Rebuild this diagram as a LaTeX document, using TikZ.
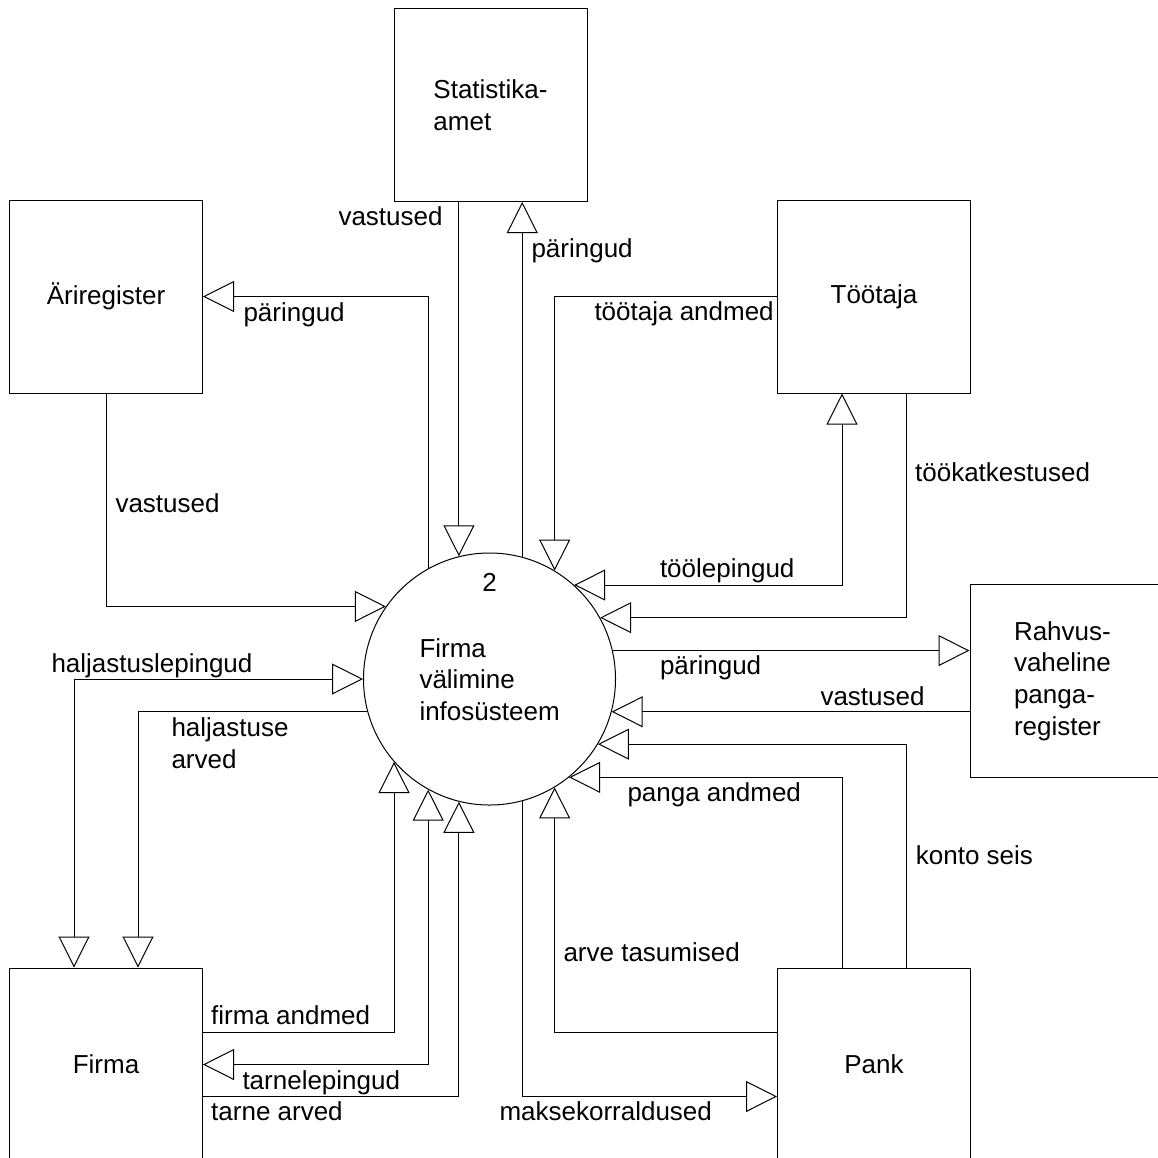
\documentclass[tikz,border=0pt]{standalone}
\usepackage{fontspec}
\setmainfont{Liberation Sans}
\usetikzlibrary{arrows.meta}

\begin{document}
\begin{tikzpicture}[x=1pt,y=-1pt,line width=1pt,
		>={Triangle[open,length=31pt,width=31pt]},
		every node/.style={font=\fontsize{26}{31.7}\selectfont},
		ent/.style={draw,rectangle,minimum width=193pt,minimum height=193pt,align=left,inner sep=0pt},
		proc/.style={draw,circle,minimum size=252pt,inner sep=0pt},
		lbl/.style={inner sep=0pt,anchor=base west}]
			%%%%% START %%%%%
			
			\path[use as bounding box] (0,0) rectangle (1158,1157);
			\clip (0,0) rectangle (1158,1157);
			
			\node[ent] (stat) at (490.5,105) {Statistika-\\amet};
			\node[ent] (ari) at (106,296.5) {Äriregister};
			\node[ent] (toot) at (874,296.5) {Töötaja};
			\node[ent,text width=105pt] (rahv) at (1066.5,681) {Rahvus-\\vaheline\\panga-\\register};
			\node[ent] (firma) at (106,1064.5) {Firma};
			\node[ent] (pank) at (874,1064.5) {Pank};
			
			\node[proc] (sys) at (489.5,679) {};
			\node[lbl,anchor=base] (sysnr) at (489.5,591.5) {2};
			\node[lbl,anchor=west,align=left] (sysname) at (419,679.5) {Firma\\välimine\\infosüsteem};
			
			\draw[->] (sys.104 |- stat.south) -- (sys.104);
			\draw[->] (sys.75) -- (sys.75 |- stat.south);
			\draw[->] (sys.119.7) |- (ari.east);
			\draw[->] (ari.south) |- (sys.145.2);
			\draw[->] (toot.west) -| (sys.59.2);
			\draw[<->] (sys.48.2) -| ([xshift=-32pt]toot.south);
			\draw[->] ([xshift=32pt]toot.south) |- (sys.29.5);
			
			\draw[->] (sys.13.8) -- (sys.13.8 -| rahv.west);
			\draw[->] (rahv.west |- sys.-15.6) -- (sys.-15.6);
			\draw[->] ([xshift=32pt]pank.north) |- (sys.-31.6);
			\draw[->] ([xshift=-32pt]pank.north) |- (sys.-51);
			\draw[->] ([yshift=32pt]pank.west) -| (sys.-59.2);
			\draw[->] (sys.-75) |- ([yshift=-32pt]pank.west);
			
			\draw[->] ([yshift=32pt]firma.east) -| (sys.-139.3);
			\draw[<->] (sys.-119.7) |- (firma.east);
			\draw[->] ([yshift=-32pt]firma.east) -| (sys.-104);
			\draw[<->] (sys.180) -| ([xshift=-32pt]firma.north);
			\draw[->] (sys.195.6) -| ([xshift=32pt]firma.north);
			
			\node[lbl] (lvastS) at (338,225) {vastused};
			\node[lbl] (lparS) at (531,257) {päringud};
			\node[lbl] (lparA) at (243,321) {päringud};
			\node[lbl] (lvastA) at (115,512.7) {vastused};
			\node[lbl] (landT) at (594,320) {töötaja andmed};
			\node[lbl] (lkatk) at (914.6,481.5) {töökatkestused};
			\node[lbl] (llep) at (659.5,577) {töölepingud};
			\node[lbl] (lparR) at (659.5,674) {päringud};
			\node[lbl] (lvastR) at (820,705) {vastused};
			\node[lbl] (lkonto) at (915.4,864.3) {konto seis};
			\node[lbl] (landP) at (627,801) {panga andmed};
			\node[lbl] (ltasu) at (563,961) {arve tasumised};
			\node[lbl] (lmaks) at (499,1120.5) {maksekorraldused};
			\node[lbl] (landF) at (210.7,1024.5) {firma andmed};
			\node[lbl] (ltlep) at (242,1089) {tarnelepingud};
			\node[lbl] (ltarv) at (210.7,1120.5) {tarne arved};
			\node[lbl] (lhlep) at (51,672) {haljastuslepingud};
			\node[lbl,anchor=west,align=left] (lharv) at (171,743.5) {haljastuse\\arved};
			
			%%%%% END %%%%%
		\end{tikzpicture}
\end{document}
